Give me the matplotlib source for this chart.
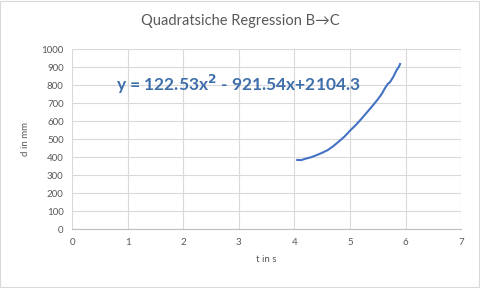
import matplotlib
matplotlib.use("Agg")
import matplotlib.pyplot as plt
from matplotlib.patches import Rectangle

# values
t_values = [4.05, 4.12, 4.2, 4.3, 4.4, 4.5, 4.6, 4.7, 4.8, 4.9, 5.0, 5.1, 5.2,
            5.3, 5.4, 5.5, 5.57, 5.63, 5.68, 5.72, 5.78, 5.83, 5.88, 5.9]
d_values = [385, 384, 392, 400, 412, 425, 440, 462, 488, 515, 548, 578, 612,
            648, 684, 722, 752, 785, 808, 818, 848, 880, 904, 918]
x_ticks = [0, 1, 2, 3, 4, 5, 6, 7]
y_ticks = [0, 100, 200, 300, 400, 500, 600, 700, 800, 900, 1000]

title = "Quadratsiche Regression B\u2192C"
equation = "y = 122.53x$^\\mathbf{2}$ - 921.54x+2104.3"

plt.rcParams['font.family'] = ['Lato', 'DejaVu Sans']
text_grey = '#595959'

fig = plt.figure(figsize=(4.8, 2.88), dpi=100)
fig.patches.append(Rectangle((0.001, 0.002), 0.997, 0.995, transform=fig.transFigure,
                             fill=False, edgecolor='#D9D9D9', linewidth=0.8))
ax = fig.add_axes([0.15, 0.204, 0.811, 0.625])

ax.plot(t_values, d_values, color='#4472C4', linewidth=1.5)

ax.set_xlim(0, 7)
ax.set_ylim(0, 1000)
ax.set_xticks(x_ticks)
ax.set_yticks(y_ticks)
ax.grid(True, color='#D9D9D9', linewidth=0.8)
ax.set_axisbelow(True)
for side in ['top', 'right', 'left']:
    ax.spines[side].set_visible(False)
ax.spines['bottom'].set_color('#BFBFBF')
ax.tick_params(length=0, labelsize=7, colors=text_grey, pad=6)

ax.set_xlabel('t in s', fontsize=7, color=text_grey, labelpad=6)
ax.set_ylabel('d in mm', fontsize=7, color=text_grey, labelpad=8)
fig.suptitle(title, y=0.95, fontsize=10.5, color=text_grey)

ax.text(0.8, 805, equation, fontsize=12.5, fontweight='bold', color='#3F6FAA',
        va='center', ha='left')

fig.savefig('out.png', dpi=100)
